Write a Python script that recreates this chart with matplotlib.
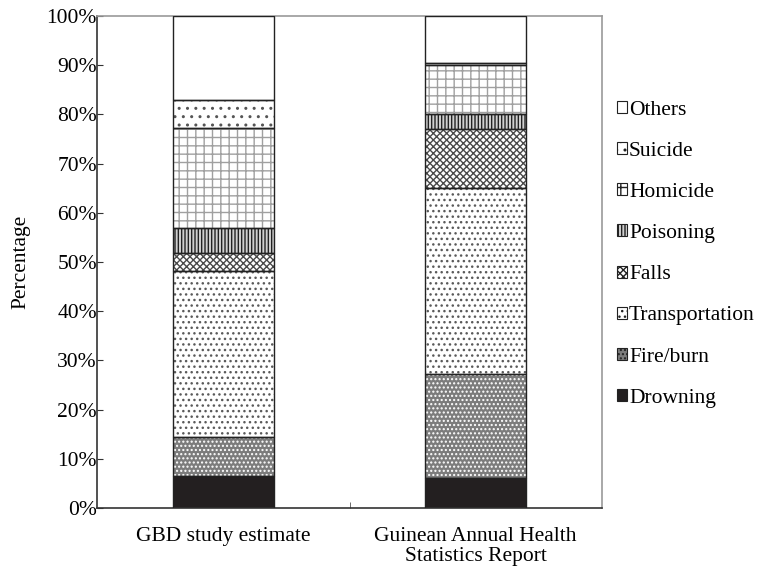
import matplotlib
matplotlib.use("Agg")
import matplotlib.pyplot as plt
from matplotlib.patches import Patch
import numpy as np

plt.rcParams['font.family'] = ['Liberation Serif', 'DejaVu Serif']
plt.rcParams['hatch.linewidth'] = 1.0

categories = ["GBD study estimate", "Guinean Annual Health\nStatistics Report"]
causes = ["Drowning", "Fire/burn", "Transportation", "Falls", "Poisoning",
          "Homicide", "Suicide", "Others"]
gbd = [6.5, 8.0, 33.7, 3.7, 5.1, 20.2, 5.7, 17.1]
guinean = [6.0, 21.2, 37.8, 12.0, 3.1, 9.9, 0.4, 9.6]
yticks = [0, 10, 20, 30, 40, 50, 60, 70, 80, 90, 100]

# (face colour, hatch colour, hatch)
styles = {
    "Drowning": ("#231f20", "#231f20", None),
    "Fire/burn": ("#7c7c7c", "#ffffff", "...."),
    "Transportation": ("#ffffff", "#5a5a5a", "..."),
    "Falls": ("#ffffff", "#4a4a4a", "xxxxx"),
    "Poisoning": ("#d0d0d0", "#222222", "|||||"),
    "Homicide": ("#ffffff", "#a0a0a0", "++"),
    "Suicide": ("#ffffff", "#555555", ".."),
    "Others": ("#ffffff", "#ffffff", None),
}

FS = 15.5

fig = plt.figure(figsize=(7.67, 5.68), dpi=100)
ax = fig.add_axes([97/767, 60/568, 505/767, 492/568])

x = np.arange(len(categories))
width = 0.4
data = np.array([gbd, guinean])
bottom = np.zeros(len(categories))
for i, cause in enumerate(causes):
    vals = data[:, i]
    face, hc, h = styles[cause]
    ax.bar(x, vals, width, bottom=bottom, color=face, edgecolor=hc,
           hatch=h, linewidth=0, zorder=2)
    ax.bar(x, vals, width, bottom=bottom, fill=False, edgecolor="#222222",
           linewidth=1.0, zorder=3)
    bottom += vals

ax.set_xlim(-0.5, 1.5)
ax.set_ylim(0, 100)
ax.set_yticks(yticks)
ax.set_yticklabels([f"{t}%" for t in yticks], fontsize=FS)
ax.tick_params(axis='y', direction='in', length=4, pad=0, color="#333333")
ax.set_xticks(x)
ax.set_xticklabels(categories, fontsize=FS, linespacing=1.05)
ax.tick_params(axis='x', which='major', length=0, pad=14)
ax.set_xticks([0.5], minor=True)
ax.tick_params(axis='x', which='minor', direction='in', length=4, color="#555555")
ax.set_ylabel("Percentage", fontsize=FS, labelpad=12)

for s in ['left', 'bottom']:
    ax.spines[s].set_color("#333333")
    ax.spines[s].set_linewidth(1.2)
for s in ['top', 'right']:
    ax.spines[s].set_color("#9a9a9a")
    ax.spines[s].set_linewidth(1.2)

handles = []
for cause in causes[::-1]:
    face, hc, h = styles[cause]
    handles.append(Patch(facecolor=face, edgecolor="#222222", hatch=h,
                         linewidth=0.8, label=cause))
leg = fig.legend(handles=handles, loc='upper left',
                 bbox_to_anchor=(608/767, 1 - 92/568), frameon=False,
                 fontsize=FS, handlelength=0.48, handleheight=0.48,
                 handletextpad=0.1, labelspacing=1.03, borderaxespad=0)

fig.savefig("out.png", dpi=100)
